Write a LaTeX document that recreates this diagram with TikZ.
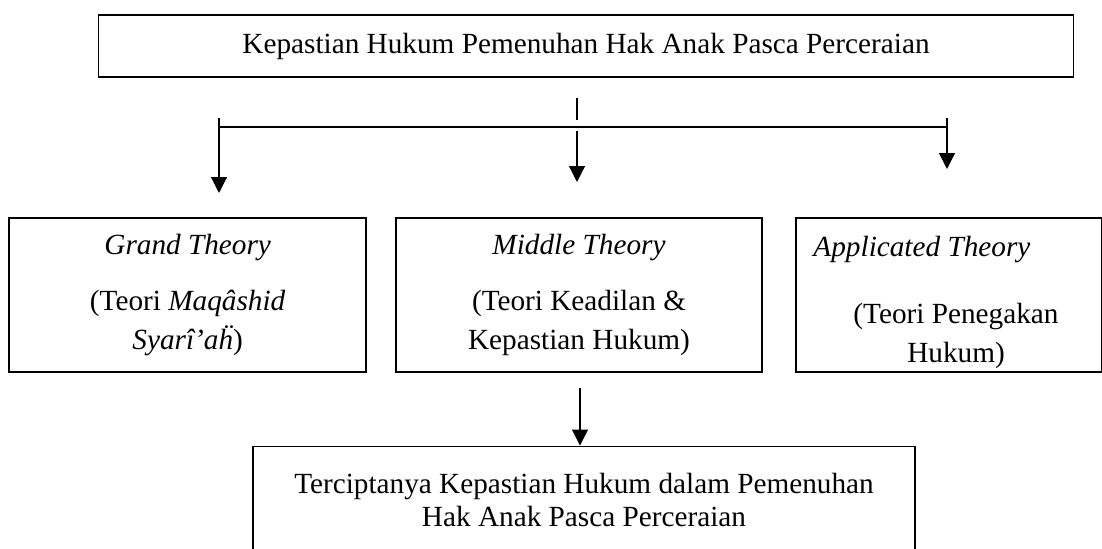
\documentclass[tikz,border=0pt]{standalone}
\usepackage{fontspec}
\setmainfont{Liberation Serif}
\usetikzlibrary{positioning}
\usetikzlibrary {arrows.meta}
\tikzset{topbox/.style={rectangle,draw=black,line width=0.7pt,fill=white,
inner sep=2pt,minimum height=25.4pt, minimum width=400pt,font=\fontsize{12}{16}\selectfont}}
\tikzset{theorybox/.style={rectangle,draw=black,line width=0.7pt,fill=white,align=center,
inner sep=2pt,minimum height=63.2pt,font=\fontsize{12}{16}\selectfont}}
\tikzset{resultbox/.style={rectangle,draw=black,line width=0.7pt,fill=white,align=center,
inner sep=2pt,minimum height=44pt, minimum width=271.6pt,font=\fontsize{12}{13.2}\selectfont}}
\tikzset{boxtext/.style={inner sep=0pt,align=center,font=\fontsize{12}{16}\selectfont}}
\tikzset{flow/.style={line width=0.5pt,-{Triangle[length=6.5pt,width=6.5pt]}}}

\begin{document}
\begin{tikzpicture}[x=0.01442cm,y=-0.01442cm]
        \useasboundingbox (0,0) rectangle (1102,549);

        \node[topbox] (boxTop) at (586,46) {Kepastian Hukum Pemenuhan Hak Anak Pasca Perceraian};

        \node[theorybox,minimum width=150.2pt] (boxMiddle) at (579,295)
            {\textit{Middle Theory}\\[6.6pt](Teori Keadilan \&\\Kepastian Hukum)};
        \node[theorybox,minimum width=146.5pt] (boxGrand) [left=11.5pt of boxMiddle]
            {\textit{Grand Theory}\\[6.6pt](Teori \textit{Maqâshid}\\\textit{Syarî’aḧ})};
        \node[theorybox,minimum width=125.6pt] (boxApplied) [right=13.1pt of boxMiddle] {};
        \node[boxtext,anchor=west] (boxAppliedtitle) at (813,250) {\textit{Applicated Theory}};
        \node[boxtext] (boxAppliedsub) at (956,336) {(Teori Penegakan\\Hukum)};

        \node[resultbox] (boxResult) at (584,500)
            {Terciptanya Kepastian Hukum dalam Pemenuhan\\Hak Anak Pasca Perceraian};

        % branching lines under the top box
        \coordinate (stubTop) at (577,98);
        \coordinate (stubBot) at (577,120);
        \draw [line width=0.5pt] (stubTop) -- (stubBot);
        \coordinate (branchL) at (219,127);
        \coordinate (branchR) at (947,127);
        \draw [line width=0.8pt] (branchL) -- (branchR);

        \coordinate (armL) at (219,118);
        \coordinate (tipL) at (219,193);
        \draw [flow] (armL) -- (tipL);
        \coordinate (armM) at (577,131);
        \coordinate (tipM) at (577,182);
        \draw [flow] (armM) -- (tipM);
        \coordinate (armR) at (947,118);
        \coordinate (tipR) at (947,169);
        \draw [flow] (armR) -- (tipR);

        \coordinate (downTop) at (580,388);
        \draw [flow] (downTop) -- (downTop |- boxResult.north);

    \end{tikzpicture}
\end{document}
